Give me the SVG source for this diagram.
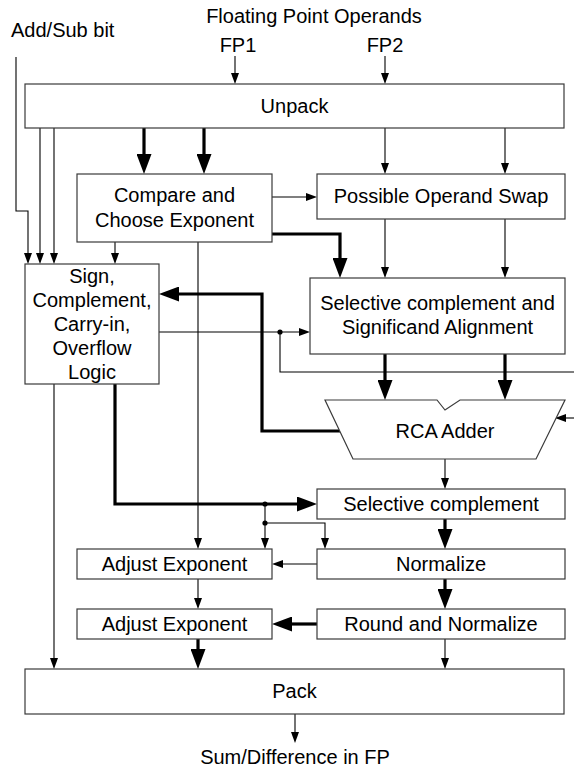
<svg xmlns="http://www.w3.org/2000/svg" width="574" height="771" viewBox="0 0 574 771">
  <style>
    .box { fill: #ffffff; stroke: #3a3a3a; stroke-width: 1.2; }
    .lbl { font-family: "Liberation Sans", Arial, sans-serif; font-size: 20px; fill: #000; text-anchor: middle; }
    .lbl-l { font-family: "Liberation Sans", Arial, sans-serif; font-size: 20px; fill: #000; }
    .w { fill: none; stroke: #000; stroke-width: 1.1; }
    .wt { fill: none; stroke: #000; stroke-width: 3.2; }
    .w-a { marker-end: url(#arr); }
    .wt-a { marker-end: url(#arrB); }
  </style>
  <defs>
    <!-- heads start at the path end and point forward -->
    <marker id="arr" markerUnits="userSpaceOnUse" markerWidth="11" markerHeight="8" refX="0" refY="4" orient="auto">
      <path d="M0,0 L11,4 L0,8 z" fill="#000"/>
    </marker>
    <marker id="arrB" markerUnits="userSpaceOnUse" markerWidth="20" markerHeight="15" refX="0" refY="7.5" orient="auto">
      <path d="M0,0 L20,7.5 L0,15 z" fill="#000"/>
    </marker>
  </defs>

  <rect width="574" height="771" fill="#ffffff"/>

  <!-- free labels -->
  <g id="labels">
    <text class="lbl" x="314" y="23">Floating Point Operands</text>
    <text class="lbl-l" x="11" y="37">Add/Sub bit</text>
    <text class="lbl" x="238" y="52">FP1</text>
    <text class="lbl" x="385" y="52">FP2</text>
    <text class="lbl" x="295" y="764">Sum/Difference in FP</text>
  </g>

  <!-- connectors -->
  <g id="connectors">
    <path class="w w-a" d="M235,56 V73"/>
    <path class="w w-a" d="M385,56 V73"/>
    <path class="w w-a" d="M16,57 V211 H28 V253"/>
    <path class="w w-a" d="M40,128 V253"/>
    <path class="w w-a" d="M54,128 V253"/>
    <path class="wt wt-a" d="M144,128 V154"/>
    <path class="wt wt-a" d="M204,128 V154"/>
    <path class="w w-a" d="M385,128 V163"/>
    <path class="w w-a" d="M505,128 V163"/>
    <path class="w w-a" d="M115,242 V253"/>
    <path class="w w-a" d="M272,197 H306"/>
    <path class="wt wt-a" d="M272,234 H340 V258"/>
    <path class="w w-a" d="M385,219 V267"/>
    <path class="w w-a" d="M505,219 V267"/>
    <path class="w w-a" d="M159,332 H299"/>
    <path class="w" d="M280,332 V372 H574"/>
    <path class="wt wt-a" d="M385,354 V380"/>
    <path class="wt wt-a" d="M505,354 V380"/>
    <path class="wt wt-a" d="M340,431 H262 V294 H179"/>
    <path class="w w-a" d="M574,418 H566"/>
    <path class="w w-a" d="M445,459 V478"/>
    <path class="wt wt-a" d="M115,384 V504 H297"/>
    <path class="w w-a" d="M265,504 V538"/>
    <path class="w w-a" d="M265,523 H325 V538"/>
    <path class="w w-a" d="M198,242 V538"/>
    <path class="wt wt-a" d="M445,519 V529"/>
    <path class="w w-a" d="M317,564 H283"/>
    <path class="w w-a" d="M198,579 V598"/>
    <path class="wt wt-a" d="M445,579 V589"/>
    <path class="wt wt-a" d="M317,624 H292"/>
    <path class="wt wt-a" d="M198,639 V649"/>
    <path class="w w-a" d="M445,639 V658"/>
    <path class="w w-a" d="M54,384 V658"/>
    <path class="w w-a" d="M295,714 V732"/>
    <circle cx="280" cy="332" r="2.6" fill="#000"/>
    <circle cx="265" cy="504" r="2.6" fill="#000"/>
    <circle cx="265" cy="523" r="2.6" fill="#000"/>
  </g>

  <g id="unpack">
    <rect class="box" x="25" y="84" width="539" height="44"/>
    <text class="lbl" x="294.5" y="113">Unpack</text>
  </g>

  <g id="compare">
    <rect class="box" x="77" y="174" width="195" height="68"/>
    <text class="lbl" x="174.5" y="202">Compare and</text>
    <text class="lbl" x="174.5" y="227">Choose Exponent</text>
  </g>

  <g id="swap">
    <rect class="box" x="317" y="174" width="248" height="45"/>
    <text class="lbl" x="441" y="203">Possible Operand Swap</text>
  </g>

  <g id="sign-logic">
    <rect class="box" x="25" y="264" width="134" height="120"/>
    <text class="lbl" x="92" y="283">Sign,</text>
    <text class="lbl" x="92" y="307">Complement,</text>
    <text class="lbl" x="92" y="331">Carry-in,</text>
    <text class="lbl" x="92" y="355">Overflow</text>
    <text class="lbl" x="92" y="379">Logic</text>
  </g>

  <g id="align">
    <rect class="box" x="310" y="278" width="255" height="76"/>
    <text class="lbl" x="437.5" y="310">Selective complement and</text>
    <text class="lbl" x="437.5" y="334">Significand Alignment</text>
  </g>

  <g id="rca">
    <polygon class="box" points="325,400 437,400 445,410 460,400 565,400 536,459 353,459"/>
    <text class="lbl" x="445" y="438">RCA Adder</text>
  </g>

  <g id="sel-complement">
    <rect class="box" x="317" y="489" width="248" height="30"/>
    <text class="lbl" x="441" y="511">Selective complement</text>
  </g>

  <g id="normalize">
    <rect class="box" x="317" y="549" width="248" height="30"/>
    <text class="lbl" x="441" y="571">Normalize</text>
  </g>

  <g id="adjust-exp-1">
    <rect class="box" x="77" y="549" width="195" height="30"/>
    <text class="lbl" x="174.5" y="571">Adjust Exponent</text>
  </g>

  <g id="adjust-exp-2">
    <rect class="box" x="77" y="609" width="195" height="30"/>
    <text class="lbl" x="174.5" y="631">Adjust Exponent</text>
  </g>

  <g id="round">
    <rect class="box" x="317" y="609" width="248" height="30"/>
    <text class="lbl" x="441" y="631">Round and Normalize</text>
  </g>

  <g id="pack">
    <rect class="box" x="25" y="669" width="539" height="45"/>
    <text class="lbl" x="294.5" y="698">Pack</text>
  </g>
</svg>
